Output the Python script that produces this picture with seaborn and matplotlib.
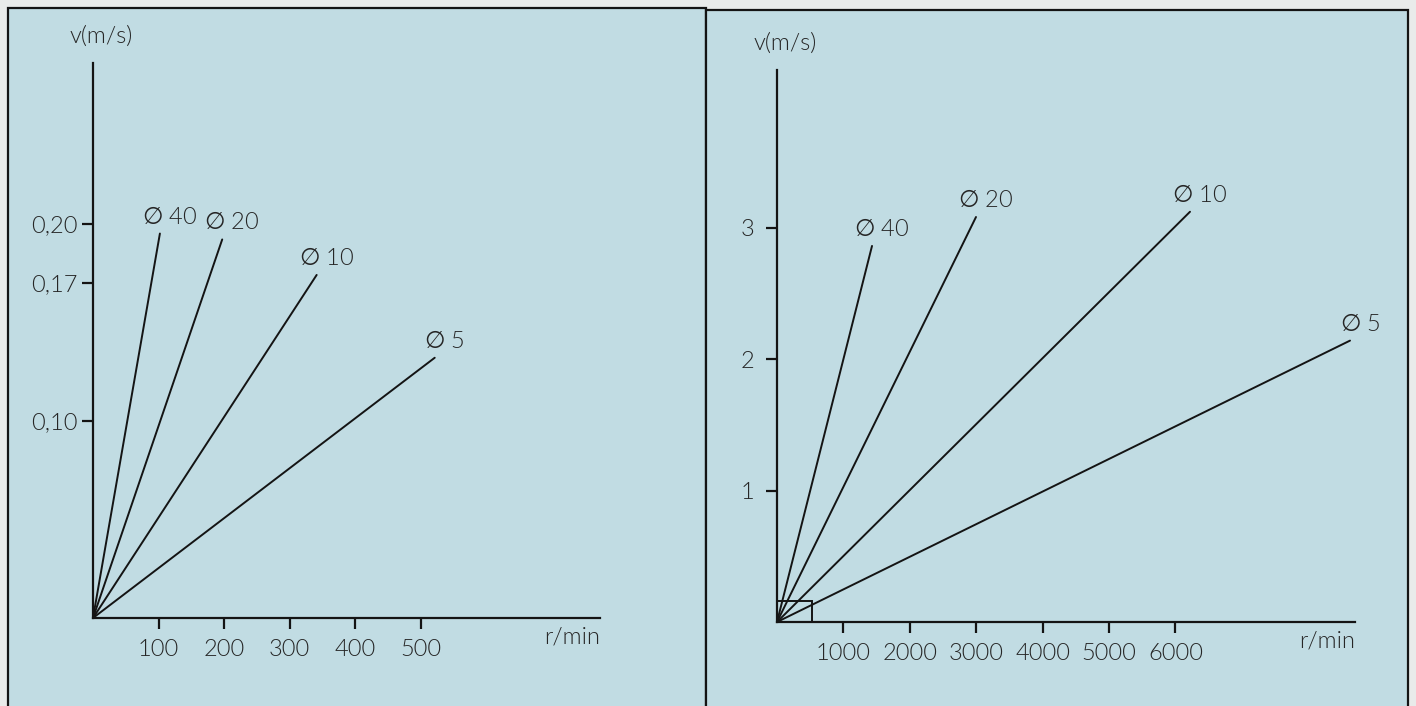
import matplotlib
matplotlib.use("Agg")
import matplotlib.pyplot as plt
import seaborn as sns
import pandas as pd
from matplotlib.patches import Rectangle

# Peripheral speed v = pi*d*n/60 for several tool diameters (mm)
diameters = [40, 20, 10, 5]

# Low-speed range (detail view)
low_rpm_end = [102, 197, 341, 521]
low_v_end = [0.195, 0.192, 0.174, 0.132]
low_xticks = [100, 200, 300, 400, 500]
low_yticks = [0.10, 0.17, 0.20]
low_yticklabels = ["0,10", "0,17", "0,20"]

# Full speed range
high_rpm_end = [1431, 2997, 6220, 8630]
high_v_end = [2.86, 3.08, 3.12, 2.14]
high_xticks = [1000, 2000, 3000, 4000, 5000, 6000]
high_yticks = [1, 2, 3]
high_yticklabels = ["1", "2", "3"]

# Corner of the full-range chart covered by the detail view
detail_box = (530, 0.16)

sns.set_theme(style="white")
plt.rcParams["font.family"] = ["Lato", "DejaVu Sans"]
plt.rcParams["font.weight"] = 300
plt.rcParams["mathtext.fontset"] = "dejavusans"

W, H = 1416, 706
BLUE = "#c1dce3"
INK = "#141414"
TEXT = "#262626"
FS = 17

fig = plt.figure(figsize=(W / 100, H / 100), dpi=100)
fig.patch.set_facecolor("#e9ebea")


def fig_box(x0, y0, x1, y1):
    """Pixel box (top-left origin) -> figure fraction [left, bottom, width, height]."""
    return [x0 / W, 1 - y1 / H, (x1 - x0) / W, (y1 - y0) / H]


# Panel backgrounds with their frames
for (x0, y0, x1, y1) in [(8, 8, 706, 712), (706, 10, 1408, 712)]:
    l, b, w, h = fig_box(x0, y0, x1, y1)
    fig.add_artist(Rectangle((l, b), w, h, transform=fig.transFigure,
                             facecolor=BLUE, edgecolor=INK, lw=1.6, zorder=0))


def lines_frame(rpm_end, v_end):
    rows = []
    for d, r, v in zip(diameters, rpm_end, v_end):
        rows.append({"d": d, "rpm": 0.0, "v": 0.0})
        rows.append({"d": d, "rpm": r, "v": v})
    return pd.DataFrame(rows)


def draw_panel(box, xlim, ylim, rpm_end, v_end, xticks, yticks, yticklabels, ypad):
    ax = fig.add_axes(fig_box(*box))
    ax.set_facecolor("none")
    df = lines_frame(rpm_end, v_end)
    sns.lineplot(data=df, x="rpm", y="v", hue="d", units="d", estimator=None,
                 sort=False, palette={d: INK for d in diameters}, legend=False,
                 linewidth=1.4, ax=ax)
    ax.set_xlim(*xlim)
    ax.set_ylim(*ylim)
    ax.set_xlabel("")
    ax.set_ylabel("")
    for side in ["top", "right"]:
        ax.spines[side].set_visible(False)
    for side in ["left", "bottom"]:
        ax.spines[side].set_color(INK)
        ax.spines[side].set_linewidth(1.6)
    ax.set_xticks(xticks)
    ax.set_xticklabels([str(t) for t in xticks])
    ax.set_yticks(yticks)
    ax.set_yticklabels(yticklabels)
    ax.tick_params(axis="both", which="major", bottom=True, left=True,
                   direction="out", length=8, width=1.6, color=INK,
                   labelsize=FS, labelcolor=TEXT)
    ax.tick_params(axis="x", pad=7)
    ax.tick_params(axis="y", pad=ypad)
    for d, r, v in zip(diameters, rpm_end, v_end):
        ax.annotate(r"$\emptyset$" + f" {d}", (r, v), xytext=(10, 17),
                    textcoords="offset pixels", ha="center", va="center",
                    fontsize=FS, color=TEXT)
    ax.annotate("v(m/s)", (0, 1), xycoords="axes fraction", xytext=(8, 27),
                textcoords="offset pixels", ha="center", va="center",
                fontsize=FS, color=TEXT)
    ax.annotate("r/min", (1, 0), xycoords="axes fraction", xytext=(0, -19),
                textcoords="offset pixels", ha="right", va="center",
                fontsize=FS, color=TEXT)
    return ax


draw_panel((93, 63, 600, 618), (0, 773), (0, 0.2815),
           low_rpm_end, low_v_end, low_xticks, low_yticks, low_yticklabels, 3)

ax_r = draw_panel((777, 70, 1355, 622), (0, 8705), (0, 4.198),
                  high_rpm_end, high_v_end, high_xticks, high_yticks, high_yticklabels, 8)
ax_r.add_patch(Rectangle((0, 0), detail_box[0], detail_box[1], fill=False,
                         edgecolor=INK, lw=1.4, zorder=3))

fig.savefig("out.png", dpi=100, facecolor=fig.get_facecolor())
